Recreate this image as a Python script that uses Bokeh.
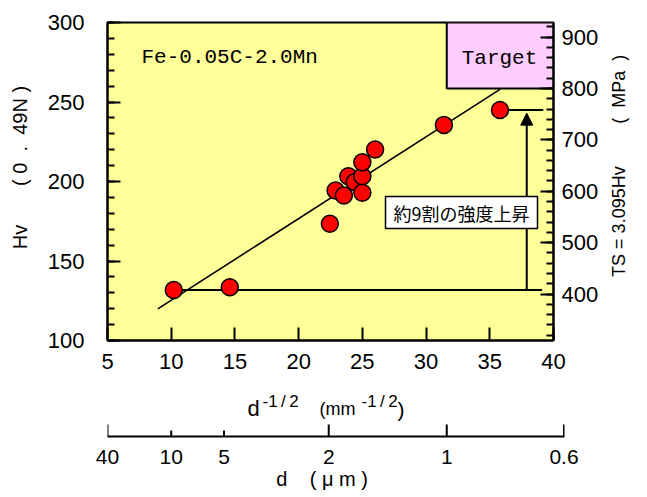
import math
from bokeh.plotting import figure
from bokeh.models import (Range1d, LinearAxis, SingleIntervalTicker, FixedTicker,
                          Label, Arrow, NormalHead)
from bokeh.layouts import column, row
from bokeh.embed import file_html
from bokeh.resources import INLINE
from bokeh.core.properties import value

# ---------------- data ----------------
d_inv_sqrt = [10.2, 14.6, 22.45, 22.9, 23.55, 23.9, 24.4, 25.0, 25.0, 25.0, 26.0, 31.4, 35.8]
hv_values = [131.8, 133.5, 173.4, 194.3, 191.2, 203.3, 199.6, 203.3, 192.9, 212.1, 220.1, 235.6, 245.0]
fit_x = [8.95, 35.8]
fit_hv = [119.9, 257.9]
ts_factor = 3.095
target_d_um = 1.0
target_ts_mpa = 800
grain_um_ticks = [40, 10, 5, 2, 1, 0.6]
grain_um_labels = ["40", "10", "5", "2", "1", "0.6"]
grain_um_long = [40, 2, 1, 0.6]
x_ticks_interval = 5
hv_tick_interval = 50
ts_tick_interval = 100

SANS = "Liberation Sans"
MONO = "Liberation Mono"
JP = "Noto Sans CJK JP"
YELLOW = "#FFFF99"
PINK = "#FFCCFF"
NB = "\u00a0"
TH = "\u2009"

W = 647
X0, X1 = 5, 40
Y0, Y1 = 100, 300
FL, FT, FW, FH = 107, 22, 446, 318
MAIN_H = 380
MAIN_W = 603
sx = FW / (X1 - X0)
sy = FH / (Y1 - Y0)


def xd(px):
    return X0 + (px - FL) / sx


def yd(py):
    return Y0 + (FT + FH - py) / sy


p = figure(width=MAIN_W, height=MAIN_H, x_range=Range1d(X0, X1), y_range=Range1d(Y0, Y1),
           output_backend="svg", toolbar_location=None,
           min_border_left=FL, min_border_right=MAIN_W - FL - FW,
           min_border_top=FT, min_border_bottom=MAIN_H - FT - FH,
           background_fill_color=YELLOW, border_fill_color="white",
           outline_line_color="black", outline_line_width=2)
p.grid.visible = False

p.extra_y_ranges = {"ts": Range1d(Y0 * ts_factor, Y1 * ts_factor)}
ra = LinearAxis(y_range_name="ts")
p.add_layout(ra, "right")

xa = p.xaxis[0]
ya = p.yaxis[0]
xa.ticker = SingleIntervalTicker(interval=x_ticks_interval, num_minor_ticks=0)
ya.ticker = SingleIntervalTicker(interval=hv_tick_interval, num_minor_ticks=5)
ra.ticker = SingleIntervalTicker(interval=ts_tick_interval, num_minor_ticks=5)

for ax in (xa, ya, ra):
    ax.axis_line_color = "black"
    ax.axis_line_width = 2
    ax.major_tick_in = 13
    ax.major_tick_out = 0
    ax.minor_tick_in = 7
    ax.minor_tick_out = 0
    ax.major_tick_line_width = 2
    ax.minor_tick_line_width = 2
    ax.major_label_text_font = SANS
    ax.major_label_text_font_size = "22px"
    ax.major_label_text_color = "black"
    ax.axis_label_text_font = SANS
    ax.axis_label_text_font_style = "normal"
    ax.axis_label_text_color = "black"
xa.minor_tick_line_color = None
ya.major_label_standoff = 23
ra.major_label_standoff = 8
xa.major_label_standoff = 13

ya.axis_label = (NB * 5 + "Hv" + NB * 7 + "(" + NB + "0" + NB * 2 + "." + NB * 2 + "49N" + NB + ")")
ya.axis_label_text_font_size = "20px"
ya.axis_label_standoff = 14

# target box
t_left = 1.0 / math.sqrt(target_d_um / 1000.0)
t_bottom = target_ts_mpa / ts_factor
p.quad(left=[t_left], right=[X1], bottom=[t_bottom], top=[Y1],
       fill_color=PINK, line_color="black", line_width=2)

# fit line
p.line(fit_x, fit_hv, line_color="black", line_width=1.6)

# reference lines at base and peak
base_hv = hv_values[0]
peak_hv = hv_values[-1]
p.segment(x0=[d_inv_sqrt[0]], y0=[base_hv], x1=[39.1], y1=[base_hv], line_color="black", line_width=2)
p.segment(x0=[d_inv_sqrt[-1]], y0=[peak_hv], x1=[39.2], y1=[peak_hv], line_color="black", line_width=2)
p.add_layout(Arrow(end=NormalHead(size=12, fill_color="black", line_color="black"),
                   x_start=37.9, y_start=base_hv, x_end=37.9, y_end=peak_hv - 2,
                   line_color="black", line_width=2))

# points
p.scatter(d_inv_sqrt, hv_values, size=17, fill_color="#FF0000", line_color="black", line_width=1.5)

# texts inside
p.add_layout(Label(x=xd(141), y=yd(57), text="Fe-0.05C-2.0Mn", text_font=MONO,
                   text_font_size="21px", text_color="black", text_baseline="alphabetic"))
p.add_layout(Label(x=xd(499), y=yd(58), text="Target", text_font=MONO,
                   text_font_size="21px", text_color="black", text_align="center",
                   text_baseline="alphabetic"))
p.add_layout(Label(x=xd(461), y=yd(212), text="約9割の強度上昇", text_font=JP,
                   text_font_size="18px", text_color="black", text_align="center",
                   text_baseline="middle", background_fill_color="white",
                   border_line_color="black", border_line_width=1.5,
                   padding=dict(left=8, right=8, top=3, bottom=3)))

# ---------------- right-hand title panel (TS = 3.095Hv (MPa)) ----------------
RW = W - MAIN_W
r = figure(width=RW, height=MAIN_H, x_range=Range1d(0, RW), y_range=Range1d(0, MAIN_H),
           output_backend="svg", toolbar_location=None, x_axis_type=None, y_axis_type=None,
           min_border_left=0, min_border_right=0, min_border_top=0, min_border_bottom=0,
           outline_line_color=None, background_fill_color="white", border_fill_color="white")
r.grid.visible = False
r.text(x=[618 - MAIN_W, 618 - MAIN_W], y=[MAIN_H - 304, MAIN_H - 121],
       text=["TS = 3.095Hv", "(" + NB * 2 + "MPa" + NB * 2 + ")"], angle=math.pi / 2,
       text_font=value(SANS), text_font_size="18px", text_align="left",
       text_baseline="middle", text_color="black")

# ---------------- grain size axis ----------------
grain_pos = [1.0 / math.sqrt(d / 1000.0) for d in grain_um_ticks]
Q_FW = 457
q_end = X0 + Q_FW / sx
QH = 497 - MAIN_H
QB = 61
QFH = QH - QB
AXIS_Y = MAIN_H + QFH  # page y of the grain axis line
q = figure(width=W, height=QH, x_range=Range1d(X0, q_end), y_range=Range1d(0, QFH),
           output_backend="svg", toolbar_location=None,
           min_border_left=FL, min_border_right=W - FL - Q_FW,
           min_border_top=0, min_border_bottom=QB,
           outline_line_color=None, background_fill_color="white", border_fill_color="white")
q.grid.visible = False
q.yaxis.visible = False
qa = q.xaxis[0]
qa.ticker = FixedTicker(ticks=grain_pos, minor_ticks=[])
qa.major_label_overrides = {pos: lab for pos, lab in zip(grain_pos, grain_um_labels)}
qa.axis_line_color = "black"
qa.axis_line_width = 2
qa.major_tick_in = 0
qa.major_tick_out = 0
qa.minor_tick_in = 0
qa.minor_tick_out = 0
qa.major_tick_line_color = None
qa.minor_tick_line_color = None
qa.major_label_text_font = SANS
qa.major_label_text_font_size = "21px"
qa.major_label_text_color = "black"
qa.major_label_standoff = 13
qa.axis_label = "d" + NB * 4 + "(" + NB + "μ" + NB + "m" + NB + ")" + NB * 5
qa.axis_label_text_font = SANS
qa.axis_label_text_font_size = "20px"
qa.axis_label_text_font_style = "normal"
qa.axis_label_text_color = "black"
qa.axis_label_standoff = 1

tick_len = [12 if d in grain_um_long else 6 for d in grain_um_ticks]
q.segment(x0=grain_pos, y0=[0] * len(grain_pos), x1=grain_pos, y1=tick_len,
          line_color="black", line_width=2)


def qy(py):
    return AXIS_Y - py


# title of the d^-1/2 axis, drawn as text pieces (with superscripts)
q.text(x=[xd(247)], y=[qy(408)], text=["d"], text_font=value(SANS), text_font_size="22px",
       text_baseline="alphabetic", text_color="black")
q.text(x=[xd(262), xd(361)], y=[qy(401), qy(401)],
       text=["-1" + TH + "/" + TH + "2", "-1" + TH + "/" + TH + "2"], text_font=value(SANS),
       text_font_size="17px", text_baseline="alphabetic", text_color="black")
q.text(x=[xd(319)], y=[qy(408)], text=["(mm"], text_font=value(SANS), text_font_size="18px",
       text_baseline="alphabetic", text_color="black")
q.text(x=[xd(397)], y=[qy(409)], text=[")"], text_font=value(SANS), text_font_size="21px",
       text_baseline="alphabetic", text_color="black")

layout = column(row(p, r), q)
open("out.html", "w").write(file_html(layout, INLINE))
